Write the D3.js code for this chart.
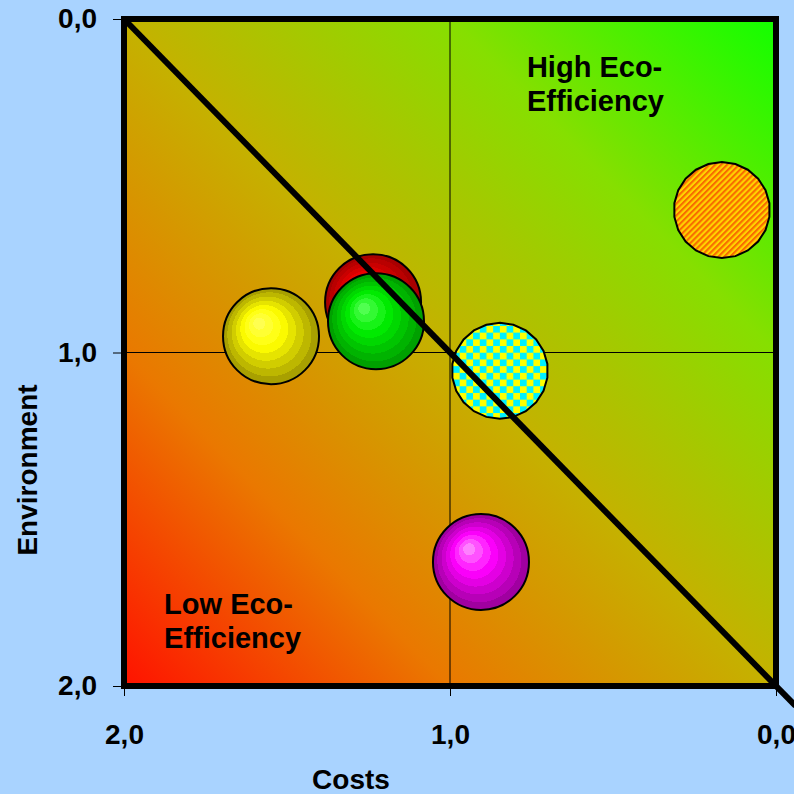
<!DOCTYPE html>
<html>
<head>
<meta charset="utf-8">
<script src="https://cdn.jsdelivr.net/npm/d3@7"></script>
<style>
  html, body { margin: 0; padding: 0; background: #a9d3ff; }
  svg { display: block; }
  text { font-family: "Liberation Sans", Arial, sans-serif; font-weight: bold; fill: #000; }
</style>
</head>
<body>
<svg id="chart" width="794" height="794"></svg>
<script>
// Eco-efficiency portfolio: costs (x, reversed) vs environment (y, reversed)
const costs       = [1.549, 1.236, 1.227, 0.847, 0.166, 0.905];
const environment = [0.951, 0.849, 0.906, 1.055, 0.573, 1.628];
const bubbleSize  = [1, 1, 1, 1, 1, 1];
const bubbleFill  = ["ballYellow", "ballRed", "ballGreen", "checker", "stripes", "ballMagenta"];
const xTicks = [2, 1, 0];
const yTicks = [0, 1, 2];
const quadrantLabels = [
  { x: 0.764, y: 0.174, lines: ["High Eco-", "Efficiency"] },
  { x: 1.877, y: 1.784, lines: ["Low Eco-", "Efficiency"] }
];

const svg = d3.select("#chart");
const plotLeft = 124, plotRight = 776, plotTop = 19, plotBottom = 686;

const x = d3.scaleLinear().domain([2, 0]).range([plotLeft, plotRight]);
const y = d3.scaleLinear().domain([0, 2]).range([plotTop, plotBottom]);
const r = d3.scaleSqrt().domain([0, 1]).range([0, 48]);
const fmt = v => d3.format(".1f")(v).replace(".", ",");

const defs = svg.append("defs");

// diagonal background wash: red (low) -> olive -> green (high)
const bg = defs.append("linearGradient").attr("id", "bgGrad")
  .attr("x1", 0).attr("y1", 1).attr("x2", 1).attr("y2", 0);
[[0, "#ff1200"], [0.25, "#ea7800"], [0.5, "#c4b200"], [0.75, "#86df00"], [1, "#12ff00"]]
  .forEach(([o, c]) => bg.append("stop").attr("offset", o).attr("stop-color", c));

// banded spherical shading
function ball(id, light, pure, dark) {
  const g = defs.append("radialGradient").attr("id", id)
    .attr("cx", 0.5).attr("cy", 0.5).attr("r", 0.5)
    .attr("fx", 0.36).attr("fy", 0.35);
  const n = 8;
  const c1 = d3.interpolateRgb(light, pure), c2 = d3.interpolateRgb(pure, dark);
  for (let i = 0; i < n; i++) {
    const t = i / (n - 1);
    const col = t < 0.4 ? c1(t / 0.4) : c2((t - 0.4) / 0.6);
    g.append("stop").attr("offset", i / n).attr("stop-color", col);
    g.append("stop").attr("offset", (i + 1) / n).attr("stop-color", col);
  }
}
ball("ballYellow", "#ffff50", "#ffff00", "#a8a000");
ball("ballRed", "#ff3030", "#ee0000", "#a80000");
ball("ballGreen", "#50ff50", "#00ee00", "#00a000");
ball("ballMagenta", "#ff80ff", "#ff00ff", "#a000a0");

// cyan / yellow checkerboard
const chk = defs.append("pattern").attr("id", "checker")
  .attr("patternUnits", "userSpaceOnUse").attr("width", 13.4).attr("height", 13.4)
  .attr("x", 0).attr("y", 2);
chk.append("rect").attr("width", 13.4).attr("height", 13.4).attr("fill", "#ffff00");
chk.append("rect").attr("width", 6.7).attr("height", 6.7).attr("fill", "#00f0ff");
chk.append("rect").attr("x", 6.7).attr("y", 6.7).attr("width", 6.7).attr("height", 6.7).attr("fill", "#00f0ff");

// orange / yellow diagonal stripes
const str = defs.append("pattern").attr("id", "stripes")
  .attr("patternUnits", "userSpaceOnUse").attr("width", 4.2).attr("height", 4.2)
  .attr("patternTransform", "rotate(45)");
str.append("rect").attr("width", 4.2).attr("height", 4.2).attr("fill", "#ffd400");
str.append("rect").attr("width", 2.1).attr("height", 4.2).attr("fill", "#f86c00");

// plot background
svg.append("rect").attr("x", plotLeft).attr("y", plotTop)
  .attr("width", plotRight - plotLeft).attr("height", plotBottom - plotTop)
  .attr("fill", "url(#bgGrad)");

// centre cross
svg.append("line").attr("x1", x(1)).attr("x2", x(1)).attr("y1", plotTop).attr("y2", plotBottom)
  .attr("stroke", "#000").attr("stroke-width", 1);
svg.append("line").attr("x1", plotLeft).attr("x2", plotRight).attr("y1", y(1)).attr("y2", y(1))
  .attr("stroke", "#000").attr("stroke-width", 1);

// quadrant captions
quadrantLabels.forEach(q => {
  const t = svg.append("text").attr("x", x(q.x)).attr("y", y(q.y))
    .style("font-size", "29px");
  q.lines.forEach((l, i) => t.append("tspan").attr("x", x(q.x)).attr("dy", i ? 34 : 0).text(l));
});

// bubbles
const data = costs.map((c, i) => ({ c, e: environment[i], s: bubbleSize[i], f: bubbleFill[i] }));
const radial = d3.lineRadial().curve(d3.curveLinearClosed);
data.forEach(d => {
  const cx = x(d.c), cy = y(d.e), rr = r(d.s);
  if (d.f === "checker" || d.f === "stripes") {
    const n = 22;
    const pts = d3.range(n).map(k => [k / n * 2 * Math.PI, rr]);
    svg.append("path").attr("transform", `translate(${cx},${cy})`)
      .attr("d", radial(pts))
      .attr("fill", `url(#${d.f})`).attr("stroke", "#000").attr("stroke-width", 2);
  } else {
    svg.append("circle").attr("cx", cx).attr("cy", cy).attr("r", rr)
      .attr("fill", `url(#${d.f})`).attr("stroke", "#000").attr("stroke-width", 2);
  }
});

// break-even diagonal
svg.append("line")
  .attr("x1", x(2)).attr("y1", y(0))
  .attr("x2", x(-0.06)).attr("y2", y(2.06))
  .attr("stroke", "#000").attr("stroke-width", 6);

// frame
svg.append("rect").attr("x", plotLeft).attr("y", plotTop)
  .attr("width", plotRight - plotLeft).attr("height", plotBottom - plotTop)
  .attr("fill", "none").attr("stroke", "#000").attr("stroke-width", 6);

// axes
const yAxis = svg.append("g").attr("transform", `translate(${plotLeft},0)`)
  .call(d3.axisLeft(y).tickValues(yTicks).tickFormat(fmt).tickSize(11).tickPadding(16));
const xAxis = svg.append("g").attr("transform", `translate(0,${plotBottom})`)
  .call(d3.axisBottom(x).tickValues(xTicks).tickFormat(fmt).tickSize(10).tickPadding(28));
[xAxis, yAxis].forEach(a => {
  a.attr("font-size", null).attr("font-family", null);
  a.select(".domain").remove();
  a.selectAll(".tick line").attr("stroke", "#000").attr("stroke-width", 1);
  a.selectAll(".tick text").attr("fill", "#000").style("font-size", "28px");
});

// axis titles
svg.append("text").attr("x", 351).attr("y", 789).attr("text-anchor", "middle")
  .style("font-size", "28px").text("Costs");
svg.append("text").attr("transform", "translate(37,470) rotate(-90)")
  .attr("text-anchor", "middle").style("font-size", "28px").text("Environment");
</script>
</body>
</html>
